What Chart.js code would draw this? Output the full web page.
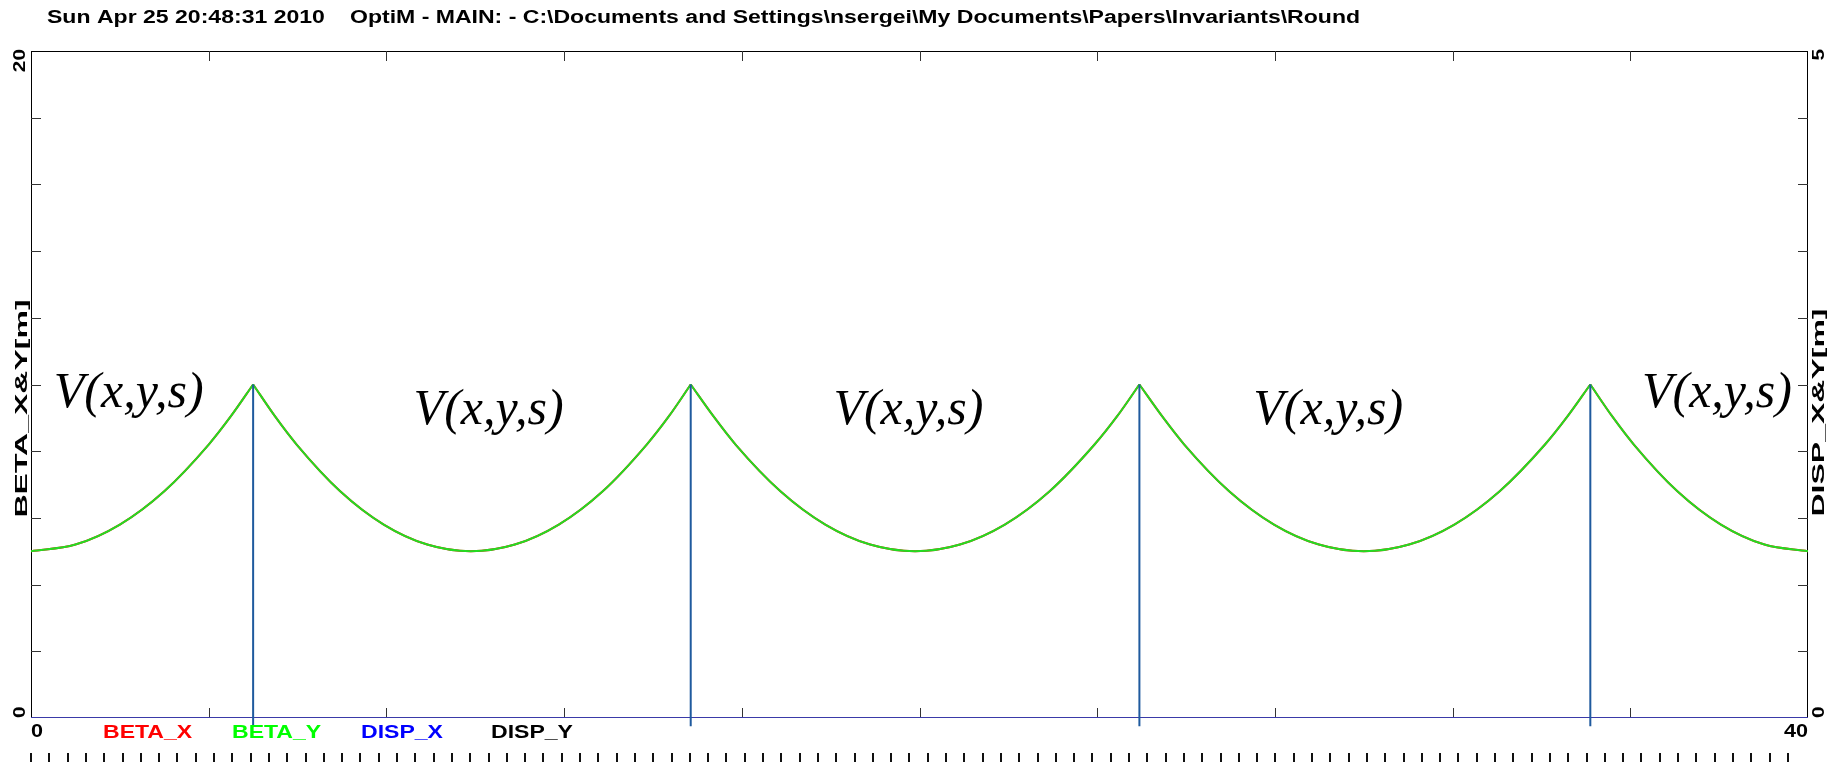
<!DOCTYPE html>
<html>
<head>
<meta charset="utf-8">
<title>OptiM - BETA / DISP</title>
<script src="https://cdn.jsdelivr.net/npm/chart.js@4.4.1/dist/chart.umd.min.js"></script>
<style>
  html, body { margin: 0; padding: 0; background: #ffffff; overflow: hidden; }
  #wrap { position: relative; width: 1839px; height: 762px; }
  canvas { display: block; }
</style>
</head>
<body>
<div id="wrap"><canvas id="chart" width="1839" height="762"></canvas></div>
<script>
// ---- Lattice functions along the section (s in metres) ----
// Beta samples per half cell; a null at each lens breaks the line so the cusp stays sharp.
const sPos = [
  0, 1, 2, 3, 4, 4.5, 5.0,
  5.0,
  5.0, 5.49, 5.98, 6.96, 7.94, 8.92, 9.9,
  10.89, 11.88, 12.87, 13.86, 14.36, 14.85,
  14.85,
  14.85, 15.36, 15.86, 16.87, 17.88, 18.89, 19.9,
  20.91, 21.92, 22.93, 23.94, 24.45, 24.95,
  24.95,
  24.95, 25.46, 25.96, 26.97, 27.98, 28.99, 30.0,
  31.02, 32.04, 33.06, 34.08, 34.59, 35.1,
  35.1,
  35.1, 35.59, 36.08, 37.06, 38.04, 39.02, 40
];
const betaX = [
  5.00, 5.20, 5.80, 6.80, 8.20, 9.05, 10.00,
  null,
  10.00, 9.05, 8.20, 6.80, 5.80, 5.20, 5.00,
  5.20, 5.80, 6.80, 8.20, 9.05, 10.00,
  null,
  10.00, 9.05, 8.20, 6.80, 5.80, 5.20, 5.00,
  5.20, 5.80, 6.80, 8.20, 9.05, 10.00,
  null,
  10.00, 9.05, 8.20, 6.80, 5.80, 5.20, 5.00,
  5.20, 5.80, 6.80, 8.20, 9.05, 10.00,
  null,
  10.00, 9.05, 8.20, 6.80, 5.80, 5.20, 5.00
];
const betaY = [
  5.00, 5.20, 5.80, 6.80, 8.20, 9.05, 10.00,
  null,
  10.00, 9.05, 8.20, 6.80, 5.80, 5.20, 5.00,
  5.20, 5.80, 6.80, 8.20, 9.05, 10.00,
  null,
  10.00, 9.05, 8.20, 6.80, 5.80, 5.20, 5.00,
  5.20, 5.80, 6.80, 8.20, 9.05, 10.00,
  null,
  10.00, 9.05, 8.20, 6.80, 5.80, 5.20, 5.00,
  5.20, 5.80, 6.80, 8.20, 9.05, 10.00,
  null,
  10.00, 9.05, 8.20, 6.80, 5.80, 5.20, 5.00
];
// Dispersion is zero everywhere in this section
const sDisp = [0, 40];
const dispX = [0, 0];
const dispY = [0, 0];

// Thin-lens elements (position and height of the marker, in BETA units)
const elemS = [5.0, 14.85, 24.95, 35.1];
const elemTop = [10, 10, 10, 10];

// Texts
const titleDate = 'Sun Apr 25 20:48:31 2010';
const titleFile = 'OptiM - MAIN: - C:\\Documents and Settings\\nsergei\\My Documents\\Papers\\Invariants\\Round';
const xTickLabels = ['0', '40'];
const betaTickLabels = ['0', '20'];
const dispTickLabels = ['0', '5'];
const betaAxisTitle = 'BETA_X&Y[m]';
const dispAxisTitle = 'DISP_X&Y[m]';
const legendNames = ['BETA_X', 'BETA_Y', 'DISP_X', 'DISP_Y'];
const potentialLabel = 'V(x,y,s)';

// ---- Presentation settings ----
const X_RANGE = [0, 40], X_STEP = 4;
const BETA_RANGE = [0, 20], BETA_STEP = 2;
const DISP_RANGE = [0, 5];
const ELEM_FOOT = -0.25;              // markers run slightly below the axis
const TICK_LEN = 10;
const BOLD = '"Liberation Sans", Arial, sans-serif';
const WIDE = 1.28;                    // horizontal stretch of the plot font
const colors = { betaX: '#ff0000', betaY: '#22dd22', dispX: '#0000ff', dispY: '#000000', elem: '#1f5a9e', dispLine: '#3a3aa8' };
const legendX = [103, 232, 361, 491];
const potentialSpots = [
  { s: 2.2, v: 9.33 }, { s: 10.3, v: 8.82 }, { s: 19.75, v: 8.82 }, { s: 29.2, v: 8.82 }, { s: 37.95, v: 9.33 }
];

const pts = (xs, ys) => xs.map((s, i) => ({ x: s, y: ys[i] }));
const elemPts = [];
elemS.forEach((s, i) => {
  elemPts.push({ x: s, y: ELEM_FOOT }, { x: s, y: elemTop[i] }, { x: s, y: null });
});

function text(ctx, str, x, y, o) {
  ctx.save();
  ctx.translate(x, y);
  if (o.rot) ctx.rotate(-Math.PI / 2);
  ctx.scale(o.sx || 1, 1);
  ctx.font = o.font;
  ctx.fillStyle = o.color || '#000';
  ctx.textAlign = o.align || 'left';
  ctx.textBaseline = o.base || 'alphabetic';
  ctx.fillText(str, 0, 0);
  ctx.restore();
}

const framePlugin = {
  id: 'optimFrame',
  beforeDatasetsDraw(chart) {
    const { ctx, chartArea: a, scales } = chart;
    const xs = scales.x, ys = scales.y;
    ctx.save();
    ctx.strokeStyle = '#000';
    ctx.lineWidth = 1;
    ctx.strokeRect(a.left + 0.5, a.top + 0.5, a.right - a.left - 1, a.bottom - a.top - 1);
    ctx.strokeStyle = '#333';
    ctx.beginPath();
    for (let v = X_RANGE[0] + X_STEP; v < X_RANGE[1]; v += X_STEP) {
      const px = Math.round(xs.getPixelForValue(v)) + 0.5;
      ctx.moveTo(px, a.top); ctx.lineTo(px, a.top + TICK_LEN);
      ctx.moveTo(px, a.bottom); ctx.lineTo(px, a.bottom - TICK_LEN);
    }
    for (let v = BETA_RANGE[0] + BETA_STEP; v < BETA_RANGE[1]; v += BETA_STEP) {
      const py = Math.round(ys.getPixelForValue(v)) + 0.5;
      ctx.moveTo(a.left, py); ctx.lineTo(a.left + TICK_LEN, py);
      ctx.moveTo(a.right, py); ctx.lineTo(a.right - TICK_LEN, py);
    }
    ctx.stroke();
    ctx.restore();
  },
  afterDraw(chart) {
    const { ctx, chartArea: a, scales } = chart;
    const xs = scales.x, ys = scales.y;
    const f18 = 'bold 18px ' + BOLD;
    const fRot = 'bold 16px ' + BOLD;

    // header line
    text(ctx, titleDate, 47, 23, { font: f18, sx: WIDE });
    text(ctx, titleFile, 350, 23, { font: f18, sx: WIDE });

    // left axis (rotated)
    text(ctx, betaTickLabels[1], 25, ys.getPixelForValue(BETA_RANGE[1]) - 2, { font: fRot, sx: 1.3, rot: true, align: 'right' });
    text(ctx, betaTickLabels[0], 25, ys.getPixelForValue(BETA_RANGE[0]), { font: fRot, sx: 1.3, rot: true, align: 'left' });
    text(ctx, betaAxisTitle, 27, (a.top + a.bottom) / 2 + 24, { font: fRot, sx: 2.0, rot: true, align: 'center' });

    // right axis (rotated)
    const ds = scales.y2;
    text(ctx, dispTickLabels[1], 1824, ds.getPixelForValue(DISP_RANGE[1]) - 2, { font: fRot, sx: 1.3, rot: true, align: 'right' });
    text(ctx, dispTickLabels[0], 1824, ds.getPixelForValue(DISP_RANGE[0]), { font: fRot, sx: 1.3, rot: true, align: 'left' });
    text(ctx, dispAxisTitle, 1824, (a.top + a.bottom) / 2 + 28, { font: fRot, sx: 2.0, rot: true, align: 'center' });

    // x axis end labels
    text(ctx, xTickLabels[0], xs.getPixelForValue(X_RANGE[0]), 737, { font: f18, sx: 1.2, align: 'left' });
    text(ctx, xTickLabels[1], xs.getPixelForValue(X_RANGE[1]), 737, { font: f18, sx: 1.2, align: 'right' });

    // curve names
    const legendColors = [colors.betaX, '#00ff00', colors.dispX, colors.dispY];
    legendNames.forEach((n, i) => text(ctx, n, legendX[i], 738, { font: f18, sx: WIDE, color: legendColors[i] }));

    // potential labels
    potentialSpots.forEach(p => {
      text(ctx, potentialLabel, xs.getPixelForValue(p.s), ys.getPixelForValue(p.v),
        { font: 'italic 50px "Liberation Serif", "Times New Roman", serif', align: 'center' });
    });

    // perforation marks along the lower edge
    ctx.save();
    ctx.fillStyle = '#111';
    for (let i = 0; i <= 96; i++) {
      const px = Math.round(31 + i * 18.3);
      ctx.fillRect(px - 1, 753, 2, 9);
    }
    ctx.restore();
  }
};

// Chart.js paints the first dataset last, so the list runs from top layer to bottom layer
const betaStyle = { yAxisID: 'y', borderWidth: 2, cubicInterpolationMode: 'monotone', spanGaps: false };
new Chart(document.getElementById('chart'), {
  type: 'line',
  data: {
    datasets: [
      { label: 'elements', data: elemPts, yAxisID: 'y', borderColor: colors.elem, borderWidth: 2, spanGaps: false, clip: false },
      Object.assign({ label: 'BETA_Y', data: pts(sPos, betaY), borderColor: colors.betaY }, betaStyle),
      Object.assign({ label: 'BETA_X', data: pts(sPos, betaX), borderColor: colors.betaX }, betaStyle),
      { label: 'DISP_X', data: pts(sDisp, dispX), yAxisID: 'y2', borderColor: colors.dispLine, borderWidth: 2 },
      { label: 'DISP_Y', data: pts(sDisp, dispY), yAxisID: 'y2', borderColor: colors.dispY, borderWidth: 2 }
    ]
  },
  options: {
    responsive: false,
    animation: false,
    devicePixelRatio: 1,
    layout: { padding: { left: 31, right: 31, top: 51, bottom: 44 } },
    elements: { point: { radius: 0, hoverRadius: 0 }, line: { tension: 0, borderCapStyle: 'butt' } },
    plugins: { legend: { display: false }, tooltip: { enabled: false }, title: { display: false } },
    scales: {
      x: { type: 'linear', min: X_RANGE[0], max: X_RANGE[1], display: false },
      y: { type: 'linear', min: BETA_RANGE[0], max: BETA_RANGE[1], display: false },
      y2: { type: 'linear', min: DISP_RANGE[0], max: DISP_RANGE[1], display: false, position: 'right' }
    }
  },
  plugins: [framePlugin]
});
</script>
</body>
</html>
